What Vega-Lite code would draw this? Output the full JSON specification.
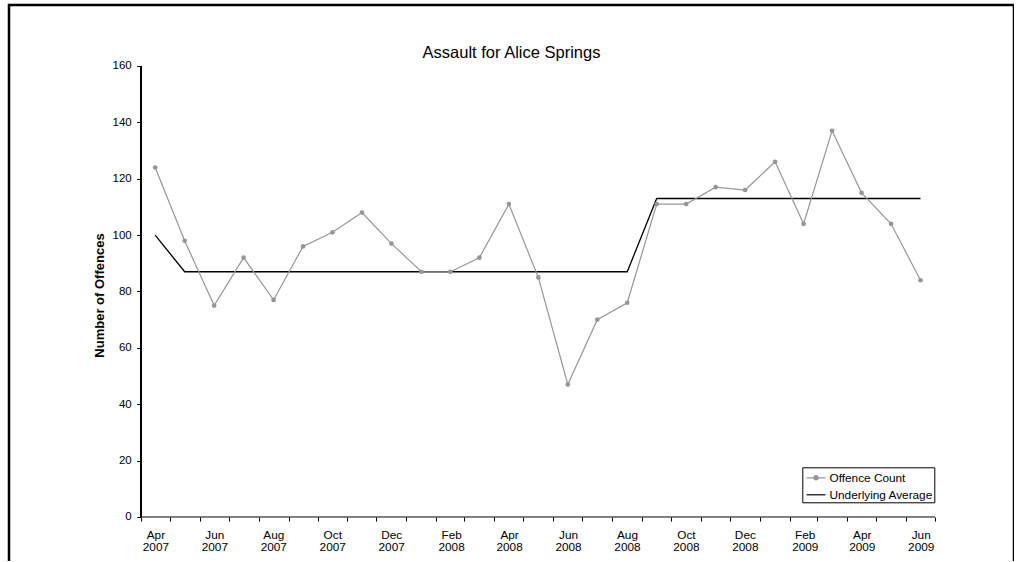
{
  "$schema": "https://vega.github.io/schema/vega-lite/v6.json",
  "width": 1005,
  "height": 560,
  "autosize": {"type": "none"},
  "padding": {"left": 9, "top": 5, "right": 0, "bottom": -4},
  "background": "white",
  "config": {
    "font": "Liberation Sans",
    "view": {"stroke": "black", "strokeWidth": 2.5},
    "axis": {"grid": false, "labelColor": "black", "tickColor": "black", "labelFont": "Liberation Sans"}
  },
  "title": {
    "text": "Assault for Alice Springs",
    "fontSize": 16.5,
    "font": "Liberation Sans",
    "fontWeight": "normal",
    "color": "black",
    "anchor": "middle",
    "frame": "group",
    "baseline": "alphabetic",
    "offset": -69.5
  },
  "data": {
    "values": [
      {"month": "2007-04-01", "count": 124, "average": 100},
      {"month": "2007-05-01", "count": 98, "average": 87},
      {"month": "2007-06-01", "count": 75, "average": 87},
      {"month": "2007-07-01", "count": 92, "average": 87},
      {"month": "2007-08-01", "count": 77, "average": 87},
      {"month": "2007-09-01", "count": 96, "average": 87},
      {"month": "2007-10-01", "count": 101, "average": 87},
      {"month": "2007-11-01", "count": 108, "average": 87},
      {"month": "2007-12-01", "count": 97, "average": 87},
      {"month": "2008-01-01", "count": 87, "average": 87},
      {"month": "2008-02-01", "count": 87, "average": 87},
      {"month": "2008-03-01", "count": 92, "average": 87},
      {"month": "2008-04-01", "count": 111, "average": 87},
      {"month": "2008-05-01", "count": 85, "average": 87},
      {"month": "2008-06-01", "count": 47, "average": 87},
      {"month": "2008-07-01", "count": 70, "average": 87},
      {"month": "2008-08-01", "count": 76, "average": 87},
      {"month": "2008-09-01", "count": 111, "average": 113},
      {"month": "2008-10-01", "count": 111, "average": 113},
      {"month": "2008-11-01", "count": 117, "average": 113},
      {"month": "2008-12-01", "count": 116, "average": 113},
      {"month": "2009-01-01", "count": 126, "average": 113},
      {"month": "2009-02-01", "count": 104, "average": 113},
      {"month": "2009-03-01", "count": 137, "average": 113},
      {"month": "2009-04-01", "count": 115, "average": 113},
      {"month": "2009-05-01", "count": 104, "average": 113},
      {"month": "2009-06-01", "count": 84, "average": 113}
    ]
  },
  "layer": [
    {
      "mark": {"type": "line", "strokeWidth": 1.3, "color": "black"},
      "encoding": {
        "x": {
          "field": "month",
          "timeUnit": "utcyearmonth",
          "type": "temporal",
          "bandPosition": 0.5,
          "scale": {
            "type": "utc",
            "nice": false,
            "domain": [
              {"year": 2006, "month": 11, "date": 15, "hours": 17, "utc": true},
              {"year": 2009, "month": 9, "date": 20, "hours": 18, "utc": true}
            ]
          },
          "axis": {
            "title": null,
            "orient": "bottom",
            "offset": -48,
            "domain": false,
            "grid": false,
            "ticks": true,
            "labels": true,
            "tickCount": 40,
            "tickSize": 4,
            "tickWidth": 1,
            "labelFontSize": 11.8,
            "labelAlign": "center",
            "labelBaseline": "top",
            "labelPadding": 8,
            "labelLineHeight": 12.7,
            "labelOffset": 14.7,
            "labelFlush": false,
            "labelOverlap": false,
            "labelExpr": "utcmonth(datum.value) % 2 == 1 ? [utcFormat(datum.value, '%b'), utcFormat(datum.value, '%Y')] : ''",
            "values": [
              {"year": 2007, "month": 4, "date": 1, "utc": true},
              {"year": 2007, "month": 5, "date": 1, "utc": true},
              {"year": 2007, "month": 6, "date": 1, "utc": true},
              {"year": 2007, "month": 7, "date": 1, "utc": true},
              {"year": 2007, "month": 8, "date": 1, "utc": true},
              {"year": 2007, "month": 9, "date": 1, "utc": true},
              {"year": 2007, "month": 10, "date": 1, "utc": true},
              {"year": 2007, "month": 11, "date": 1, "utc": true},
              {"year": 2007, "month": 12, "date": 1, "utc": true},
              {"year": 2008, "month": 1, "date": 1, "utc": true},
              {"year": 2008, "month": 2, "date": 1, "utc": true},
              {"year": 2008, "month": 3, "date": 1, "utc": true},
              {"year": 2008, "month": 4, "date": 1, "utc": true},
              {"year": 2008, "month": 5, "date": 1, "utc": true},
              {"year": 2008, "month": 6, "date": 1, "utc": true},
              {"year": 2008, "month": 7, "date": 1, "utc": true},
              {"year": 2008, "month": 8, "date": 1, "utc": true},
              {"year": 2008, "month": 9, "date": 1, "utc": true},
              {"year": 2008, "month": 10, "date": 1, "utc": true},
              {"year": 2008, "month": 11, "date": 1, "utc": true},
              {"year": 2008, "month": 12, "date": 1, "utc": true},
              {"year": 2009, "month": 1, "date": 1, "utc": true},
              {"year": 2009, "month": 2, "date": 1, "utc": true},
              {"year": 2009, "month": 3, "date": 1, "utc": true},
              {"year": 2009, "month": 4, "date": 1, "utc": true},
              {"year": 2009, "month": 5, "date": 1, "utc": true},
              {"year": 2009, "month": 6, "date": 1, "utc": true},
              {"year": 2009, "month": 7, "date": 1, "utc": true}
            ]
          }
        },
        "y": {
          "field": "average",
          "type": "quantitative",
          "scale": {"domain": [-17.03, 181.64], "nice": false, "zero": false},
          "axis": {
            "title": "Number of Offences",
            "titleFontSize": 13,
            "titleFontWeight": "bold",
            "titleColor": "black",
            "titleAngle": -90,
            "titleAlign": "center",
            "titleBaseline": "middle",
            "titleX": -41.7,
            "titleY": 290,
            "offset": -131.7,
            "domain": false,
            "grid": false,
            "ticks": true,
            "labels": true,
            "tickCount": 20,
            "values": [0, 20, 40, 60, 80, 100, 120, 140, 160],
            "tickSize": 4,
            "tickWidth": 1,
            "labelFontSize": 11.5,
            "labelPadding": 5.5
          }
        },
        "color": {
          "datum": "Underlying Average",
          "scale": {"domain": ["Offence Count", "Underlying Average"], "range": ["#969696", "black"]},
          "legend": {
            "title": null,
            "orient": "none",
            "legendX": 793.3,
            "legendY": 462.3,
            "direction": "vertical",
            "strokeColor": "black",
            "fillColor": "white",
            "padding": 0.5,
            "rowPadding": -0.5,
            "symbolSize": 324,
            "symbolOffset": 3.2,
            "symbolStrokeWidth": 1.2,
            "labelFontSize": 11.8,
            "labelFont": "Liberation Sans",
            "labelColor": "black",
            "labelOffset": 3.5,
            "encode": {
              "symbols": {
                "update": {
                  "shape": {"signal": "datum.value === 'Offence Count' ? 'M-1.05,0L1.05,0M-0.24,0A0.24,0.24,0,1,1,0.24,0A0.24,0.24,0,1,1,-0.24,0' : 'M-1.05,0L1.05,0'"},
                  "fill": {"signal": "datum.value === 'Offence Count' ? '#969696' : 'transparent'"}
                }
              }
            }
          }
        }
      }
    },
    {
      "mark": {"type": "line", "strokeWidth": 1.2},
      "encoding": {
        "x": {"field": "month", "timeUnit": "utcyearmonth", "type": "temporal", "bandPosition": 0.5},
        "y": {"field": "count", "type": "quantitative"},
        "color": {"datum": "Offence Count"}
      }
    },
    {
      "mark": {"type": "point", "filled": true, "size": 22, "opacity": 1, "color": "#969696"},
      "encoding": {
        "x": {"field": "month", "timeUnit": "utcyearmonth", "type": "temporal", "bandPosition": 0.5},
        "y": {"field": "count", "type": "quantitative"}
      }
    },
    {
      "mark": {"type": "rule", "color": "black", "strokeWidth": 1.2},
      "encoding": {
        "x": {"datum": {"year": 2007, "month": 4, "date": 1, "utc": true}, "type": "temporal"},
        "y": {"datum": 0, "type": "quantitative"},
        "y2": {"datum": 160}
      }
    },
    {
      "data": {"values": [{"edge": "2007-04-01"}, {"edge": "2009-07-01"}]},
      "mark": {"type": "line", "color": "black", "strokeWidth": 1},
      "encoding": {
        "x": {"field": "edge", "type": "temporal"},
        "y": {"datum": 0, "type": "quantitative"}
      }
    }
  ]
}
